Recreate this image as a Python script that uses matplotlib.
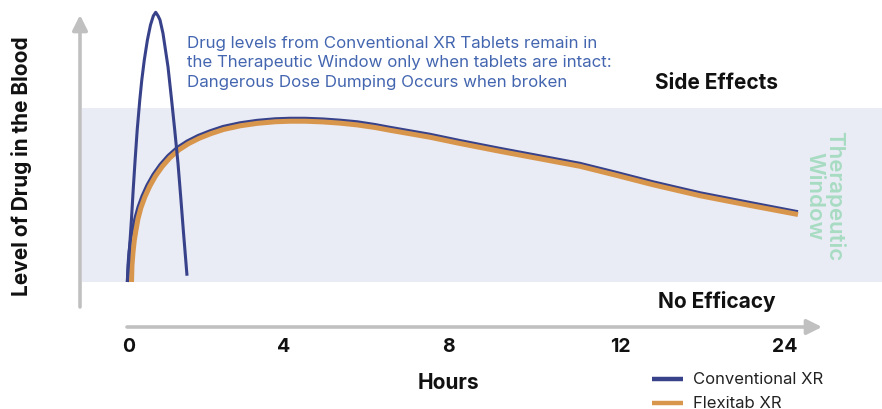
import matplotlib
matplotlib.use("Agg")
import matplotlib.pyplot as plt

plt.rcParams['font.family'] = ['Inter', 'DejaVu Sans']

# ---------------- data ----------------
tick_positions = [0, 3.76, 7.80, 11.98, 16.0]
tick_labels = ["0", "4", "8", "12", "24"]

# Conventional XR - dose dumping spike (broken tablet)
spike_x = [-0.041, 0.010, 0.059, 0.102, 0.149, 0.200, 0.263, 0.312, 0.373, 0.449, 0.524,
           0.593, 0.651, 0.710, 0.756, 0.829, 0.890, 0.951, 1.039, 1.115, 1.195, 1.261,
           1.324, 1.415]
spike_y = [0, 18.4, 35.6, 52.9, 70.1, 87.4, 104.6, 116.1, 127.6, 139.1, 147.7,
           152.9, 155.0, 152.9, 150.6, 142.9, 133.3, 123.7, 104.6, 87.4, 68.2, 49.0,
           29.9, 3.6]

# Conventional XR - intact tablet
conv_x = [-0.041, -0.024, 0.000, 0.037, 0.085, 0.146, 0.220, 0.317, 0.439, 0.585,
          0.756, 0.951, 1.171, 1.415, 1.683, 1.976, 2.293, 2.707, 3.122, 3.561,
          3.927, 4.293, 4.732, 5.146, 5.561, 6.000, 6.366, 6.854, 7.341, 8.073,
          9.049, 10.024, 11.000, 11.854, 12.780, 13.927, 15.146, 16.317]
conv_y = [0, 9.8, 17.2, 24.1, 29.9, 36.8, 43.1, 49.4, 55.7, 61.8,
          67.5, 72.7, 77.3, 81.0, 84.2, 86.9, 89.4, 91.5, 92.9, 93.8,
          94.1, 94.1, 93.7, 93.0, 92.1, 90.5, 88.9, 86.9, 84.9, 81.3,
          76.8, 72.5, 68.2, 63.2, 57.6, 51.3, 45.7, 40.4]

# Flexitab XR
flex_x = [0.061, 0.073, 0.098, 0.129, 0.168, 0.220, 0.290, 0.385, 0.505, 0.646,
          0.815, 1.002, 1.215, 1.451, 1.712, 2.000, 2.312, 2.720, 3.134, 3.568,
          3.927, 4.293, 4.732, 5.146, 5.561, 6.000, 6.366, 6.854, 7.341, 8.073,
          9.049, 10.024, 11.000, 11.854, 12.780, 13.927, 15.146, 16.317]
flex_y = [0, 9.8, 17.2, 23.9, 29.6, 36.4, 42.6, 48.8, 55.0, 60.9,
          66.5, 71.5, 75.9, 79.5, 82.6, 85.3, 87.7, 89.8, 91.2, 92.1,
          92.4, 92.4, 92.0, 91.3, 90.3, 88.8, 87.2, 85.2, 83.2, 79.6,
          75.1, 70.8, 66.5, 61.5, 55.9, 49.6, 44.0, 38.8]

window_low, window_high = 0, 100

NAVY = "#37428a"
ORANGE = "#d8954c"
BAND = "#e9ebf5"
GREY = "#c0c0c0"
TEXTBLUE = "#4466b0"
MINT = "#a7dcc2"

# ---------------- figure ----------------
W, H = 882, 409
fig = plt.figure(figsize=(W / 100, H / 100), dpi=100)
ax = fig.add_axes([0, 0, 1, 1])
# x: 41 px per unit with 0 at px 129 ; y: 1.74 px per unit with 0 at px 282
px_x = 41.0
px_y = 1.74
ax.set_xlim((0 - 129) / px_x, (W - 129) / px_x)
ax.set_ylim((282 - H) / px_y, 282 / px_y)
ax.axis("off")

# therapeutic window band
ax.axhspan(window_low, window_high, xmin=82 / W, xmax=1.0, color=BAND, lw=0, zorder=0)

# axes arrows
y_axis_x = (80 - 129) / px_x
y_axis_bottom = (282 - 307) / px_y
y_axis_top = (282 - 15) / px_y
ax.annotate("", xy=(y_axis_x, y_axis_top), xytext=(y_axis_x, y_axis_bottom),
            arrowprops=dict(arrowstyle="-|>,head_length=0.9,head_width=0.45",
                            color=GREY, lw=2.6, shrinkA=0, shrinkB=0), zorder=1)
x_axis_y = (282 - 327) / px_y
ax.annotate("", xy=((822 - 129) / px_x, x_axis_y), xytext=((127 - 129) / px_x, x_axis_y),
            arrowprops=dict(arrowstyle="-|>,head_length=0.9,head_width=0.45",
                            color=GREY, lw=2.6, shrinkA=0, shrinkB=0), zorder=1)

# curves
ax.plot(conv_x, conv_y, color=NAVY, lw=2.2, solid_capstyle="butt",
        solid_joinstyle="round", zorder=3)
ax.plot(flex_x, flex_y, color=ORANGE, lw=3.6, solid_capstyle="butt",
        solid_joinstyle="round", zorder=4)
ax.plot(spike_x, spike_y, color=NAVY, lw=2.2, solid_capstyle="butt",
        solid_joinstyle="round", zorder=5)

# tick labels
for pos, lab in zip(tick_positions, tick_labels):
    ax.text(pos, (282 - 347) / px_y, lab, ha="center", va="center",
            fontsize=14, fontweight="bold", color="#111111")

ax.text(7.80, (282 - 383) / px_y, "Hours", ha="center", va="center",
        fontsize=15, fontweight="bold", color="#111111")
ax.text((22 - 129) / px_x, (282 - 166) / px_y, "Level of Drug in the Blood",
        rotation=90, ha="center", va="center", fontsize=15, fontweight="bold",
        color="#111111")

ax.text((717 - 129) / px_x, (282 - 83) / px_y, "Side Effects", ha="center", va="center",
        fontsize=15, fontweight="bold", color="#111111")
ax.text((717 - 129) / px_x, (282 - 302) / px_y, "No Efficacy", ha="center", va="center",
        fontsize=15, fontweight="bold", color="#111111")

ax.text((187 - 129) / px_x, (282 - 63) / px_y,
        "Drug levels from Conventional XR Tablets remain in\n"
        "the Therapeutic Window only when tablets are intact:\n"
        "Dangerous Dose Dumping Occurs when broken",
        ha="left", va="center", fontsize=12.2, color=TEXTBLUE, linespacing=1.34)

ax.text((825 - 129) / px_x, (282 - 196) / px_y, "Therapeutic\nWindow",
        rotation=-90, ha="center", va="center", fontsize=16, fontweight="semibold",
        color=MINT, linespacing=1.0, multialignment="center")

# legend
leg_items = [("Conventional XR", NAVY, 379), ("Flexitab XR", ORANGE, 403)]
for lab, col, py in leg_items:
    yy = (282 - py) / px_y
    ax.plot([(652 - 129) / px_x, (683 - 129) / px_x], [yy, yy], color=col, lw=3.2,
            solid_capstyle="butt")
    ax.text((693 - 129) / px_x, yy, lab, ha="left", va="center", fontsize=12,
            color="#222222")

fig.savefig("out.png", dpi=100)
